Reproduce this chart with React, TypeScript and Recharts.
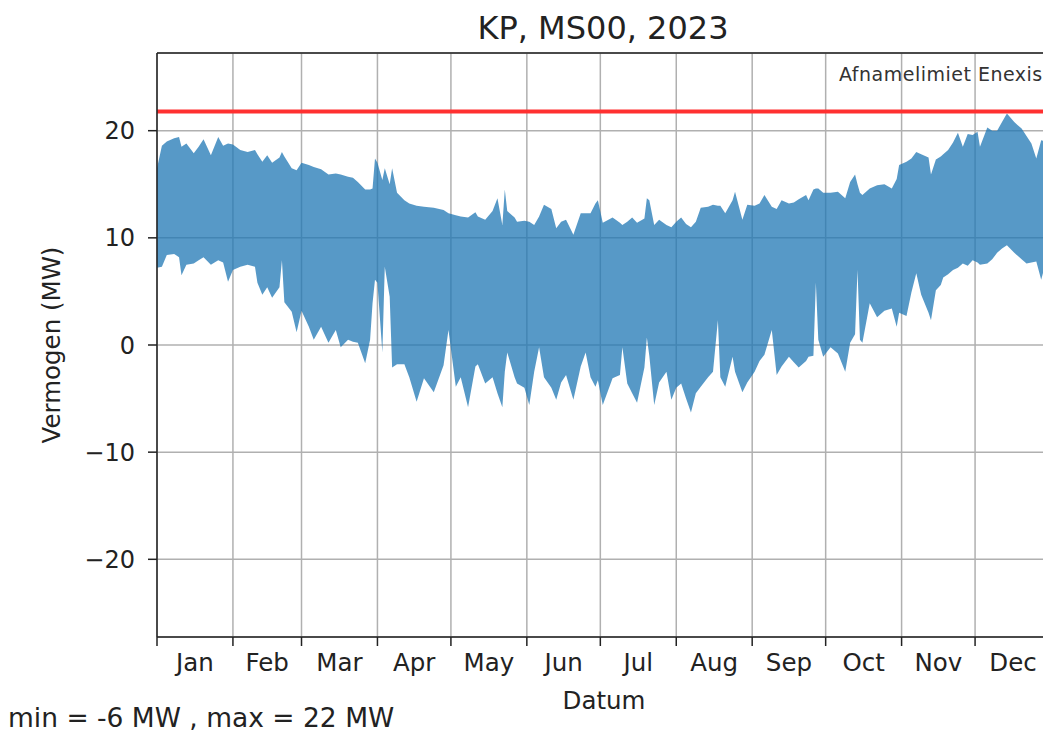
import { AreaChart, Area, XAxis, YAxis, CartesianGrid, ReferenceLine } from "recharts";

// day of year (0 = 1 Jan 2023), upper and lower envelope in MW
const DAYS = [
  0, 2, 4, 7, 9, 10, 12, 15, 17, 19, 22, 25, 27, 29, 31, 34, 37, 40, 41, 43, 45, 47, 50, 51, 52, 55, 57, 59, 62, 64,
  67, 70, 73, 75, 78, 80, 82, 85, 87, 88, 89, 90, 92, 93, 95, 96, 98, 101, 103, 106, 109, 113, 117, 119, 122, 124,
  127, 130, 131, 134, 137, 139, 141, 142, 143, 146, 147, 150, 152, 154, 156, 158, 161, 163, 165, 167, 170, 173, 175,
  177, 179, 180, 182, 186, 189, 190, 192, 194, 196, 199, 200, 201, 203, 205, 208, 210, 212, 214, 216, 218, 220, 222,
  225, 227, 229, 230, 232, 235, 236, 239, 241, 244, 246, 248, 251, 253, 255, 258, 260, 262, 265, 266, 268, 269, 270,
  272, 275, 278, 281, 283, 285, 286, 287, 288, 291, 294, 297, 300, 302, 303, 306, 308, 310, 312, 315, 316, 318, 320,
  321, 323, 325, 327, 329, 331, 333, 335, 336, 339, 341, 343, 345, 347, 350, 353, 355, 357, 359, 361, 363, 365,
];
const HIGH = [
  16.5, 18.6, 19.0, 19.3, 19.4, 18.5, 18.8, 17.9, 18.5, 19.2, 17.7, 19.4, 18.6, 18.8, 18.7, 18.2, 18.0, 18.2, 17.8,
  17.1, 17.7, 17.0, 17.5, 18.0, 17.6, 16.5, 16.3, 17.0, 16.8, 16.6, 16.4, 15.9, 16.0, 15.9, 15.7, 15.6, 15.2, 14.5,
  14.5, 14.6, 17.4, 17.0, 15.4, 16.5, 15.0, 16.5, 14.2, 13.5, 13.2, 13.0, 12.9, 12.8, 12.6, 12.3, 12.1, 12.0, 11.9,
  12.4, 12.0, 11.7, 12.5, 13.7, 11.2, 14.5, 12.5, 11.9, 11.5, 11.6, 11.5, 11.2, 12.0, 13.1, 12.7, 10.9, 11.5, 11.7,
  10.3, 12.3, 12.3, 12.3, 13.2, 13.5, 11.4, 11.9, 11.4, 11.2, 11.5, 11.9, 11.4, 11.8, 13.7, 13.5, 11.2, 11.7, 11.2,
  11.0, 11.5, 11.9, 11.3, 11.0, 11.5, 12.8, 12.9, 13.1, 13.0, 13.0, 12.3, 13.5, 14.3, 11.7, 13.1, 13.0, 13.2, 14.0,
  12.9, 12.7, 13.5, 13.2, 13.3, 13.6, 14.0, 13.5, 14.5, 14.6, 14.6, 14.2, 14.2, 14.3, 13.7, 15.2, 15.9, 15.0, 14.2,
  14.0, 14.6, 14.9, 15.0, 14.6, 15.5, 16.8, 17.1, 17.4, 18.0, 17.8, 17.5, 15.9, 17.3, 17.6, 17.8, 18.2, 18.9, 19.8,
  18.5, 19.7, 19.6, 19.9, 18.5, 20.3, 20.0, 20.0, 20.8, 21.6, 20.8, 20.2, 19.5, 18.8, 17.4, 19.1, 19.0, 19.0,
];
const LOW = [
  7.2, 7.3, 8.4, 8.5, 8.2, 6.5, 7.5, 7.6, 7.9, 8.2, 7.5, 7.9, 7.7, 5.9, 7.0, 7.3, 7.5, 7.3, 5.8, 4.7, 5.4, 4.4, 5.4,
  7.9, 4.0, 3.1, 1.2, 3.2, 1.7, 0.5, 1.7, 0.2, 1.4, -0.2, 0.5, 0.3, 0.2, -1.7, 0.5, 3.9, 6.1, 5.8, -0.7, 7.3, 4.5,
  -2.1, -1.8, -1.8, -3.0, -5.3, -3.1, -4.4, -1.9, 1.4, -3.9, -3.0, -5.8, -2.0, -1.8, -3.6, -3.0, -4.5, -5.8, -2.5,
  -0.7, -3.0, -3.6, -4.0, -5.6, -2.5, -0.2, -3.0, -4.0, -5.1, -3.5, -2.8, -5.1, -2.0, -0.7, -3.0, -3.9, -3.3, -5.6,
  -3.1, -2.8, -0.2, -3.6, -4.5, -5.4, -2.1, 0.7, -1.0, -5.6, -3.5, -2.5, -5.1, -4.0, -3.6, -5.0, -6.3, -4.5, -3.9,
  -3.0, -2.5, 2.3, -3.0, -3.9, -1.1, -2.5, -4.4, -3.5, -2.5, -1.5, -0.9, 1.4, -2.8, -2.0, -1.1, -1.6, -2.1, -1.5,
  -1.1, -1.0, 5.8, 0.5, -1.1, -0.2, -0.8, -2.5, 0.2, 1.0, 7.0, 0.5, 0.2, 3.9, 2.6, 3.2, 3.4, 1.7, 3.0, 2.7, 4.9,
  6.7, 4.7, 3.0, 2.3, 5.1, 5.6, 6.3, 6.6, 7.0, 7.2, 7.6, 7.4, 7.9, 7.7, 7.5, 7.6, 8.0, 8.6, 9.0, 9.3, 8.6, 8.0, 7.6,
  7.7, 7.8, 6.1, 7.8, 7.5,
];

const MONTHS = ["Jan", "Feb", "Mar", "Apr", "May", "Jun", "Jul", "Aug", "Sep", "Oct", "Nov", "Dec"];
const MONTH_START = [0, 31, 59, 90, 120, 151, 181, 212, 243, 273, 304, 334];
const MONTH_MID = [15.5, 45, 74.5, 105, 135.5, 166, 196.5, 227.5, 258, 288.5, 319, 349.5];
const Y_TICKS = [-20, -10, 0, 10, 20];
const LIMIT = 21.8;
const Y_MAX = 27.25;

const data = DAYS.map((d, i) => ({ day: d, range: [LOW[i], HIGH[i]] }));
const font = "'DejaVu Sans', sans-serif";
const minus = (v: number) => (v < 0 ? `\u2212${Math.abs(v)}` : `${v}`);

export default function App() {
  return (
    <div style={{ position: "absolute", left: 0, top: 0, width: 1043, height: 735, overflow: "hidden", background: "#fff", fontFamily: font }}>
      <AreaChart width={1051} height={735} data={data} margin={{ top: 53, right: 0, left: 57, bottom: 38 }}>
        <CartesianGrid stroke="#b0b0b0" strokeWidth={1.5} />
        <XAxis
          dataKey="day"
          type="number"
          domain={[0, 365]}
          ticks={MONTH_START}
          tickFormatter={() => ""}
          tickSize={9}
          height={10}
          stroke="#222"
          strokeWidth={1.5}
          interval={0}
        />
        <XAxis
          xAxisId="m"
          dataKey="day"
          type="number"
          domain={[0, 365]}
          ticks={MONTH_MID}
          tickFormatter={(v: number) => MONTHS[MONTH_MID.indexOf(v)]}
          axisLine={false}
          tickLine={false}
          tickSize={0}
          tickMargin={7}
          height={50}
          interval={0}
          tick={{ fill: "#222", fontSize: 24.5, fontFamily: font }}
        />
        <YAxis
          type="number"
          domain={[-Y_MAX, Y_MAX]}
          ticks={Y_TICKS}
          tickFormatter={minus}
          width={100}
          tickSize={9}
          tickMargin={13}
          stroke="#222"
          strokeWidth={1.5}
          interval={0}
          tick={{ fill: "#222", fontSize: 24, fontFamily: font }}
        />
        <ReferenceLine y={Y_MAX} stroke="#222" strokeWidth={1.5} />
        <Area
          type="linear"
          dataKey="range"
          stroke="none"
          fill="#1f77b4"
          fillOpacity={0.75}
          isAnimationActive={false}
        />
        <ReferenceLine y={LIMIT} stroke="#ff3030" strokeWidth={4} />
      </AreaChart>
      <svg width={1043} height={735} style={{ position: "absolute", left: 0, top: 0, pointerEvents: "none" }}>
        <text x={603} y={39} textAnchor="middle" fontSize={32} fill="#222" fontFamily={font}>
          KP, MS00, 2023
        </text>
        <text x={839} y={81} fontSize={19} letterSpacing={0.5} fill="#333" fontFamily={font}>
          Afnamelimiet Enexis
        </text>
        <text x={604} y={709} textAnchor="middle" fontSize={24.5} fill="#222" fontFamily={font}>
          Datum
        </text>
        <text x={60} y={345} textAnchor="middle" fontSize={24.5} fill="#222" fontFamily={font} transform="rotate(-90, 60, 345)">
          Vermogen (MW)
        </text>
        <text x={8} y={727} fontSize={26.5} fill="#222" fontFamily={font}>
          min = -6 MW , max = 22 MW
        </text>
      </svg>
    </div>
  );
}
